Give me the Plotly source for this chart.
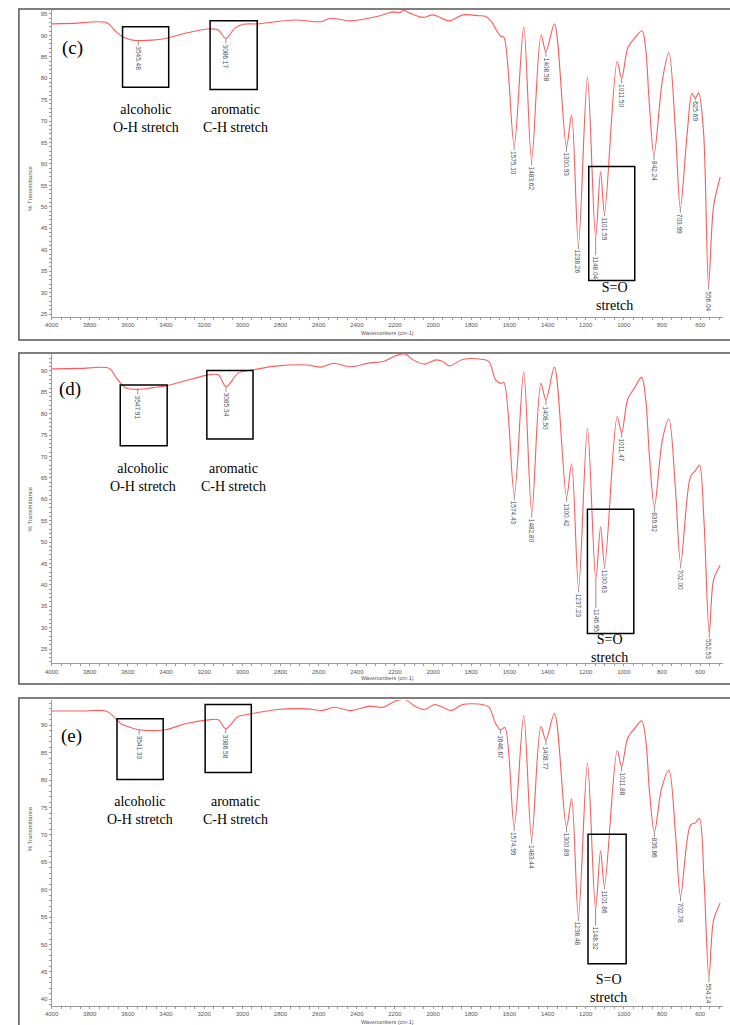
import plotly.graph_objects as go

W, H = 730, 1025

# ---------------- Spectrum (c) ----------------
wn_c = [4000, 3887, 3714, 3662, 3628, 3576, 3472, 3403, 3299, 3180, 3128, 3039, 2996,
        2918, 2728, 2589, 2537, 2434, 2295, 2209, 2174, 2157, 2122, 2053, 2001, 1914,
        1845, 1760, 1724, 1690, 1672, 1645, 1629, 1525, 1434, 1364, 1274, 1191, 1122,
        1035, 980, 945, 905, 885, 868, 798, 764, 729, 668, 643, 608, 582, 530, 495]
t_c = [92.7, 92.8, 93.0, 90.9, 89.7, 88.9, 88.9, 89.3, 90.5, 91.5, 91.3, 91.7, 92.6,
       92.7, 93.6, 93.2, 94.0, 93.4, 94.4, 95.5, 95.3, 95.9, 95.2, 94.2, 94.8, 93.4,
       94.8, 94.6, 94.4, 93.0, 91.5, 89.8, 89.6, 92.0, 90.1, 92.7, 71.4, 80.2, 58.2,
       83.9, 87.0, 89.3, 91.1, 86.6, 75.0, 79.6, 86.0, 67.2, 67.2, 76.5, 76.6, 67.2, 50.0, 57.0]
peak_wn_c = [3545.48, 3086.17, 1575.10, 1483.62, 1408.58, 1300.93, 1238.26, 1148.04,
             1101.59, 1011.50, 842.24, 703.99, 625.69, 556.04]
peak_t_c = [88.8, 89.3, 64.4, 60.9, 86.2, 64.0, 41.1, 42.9,
            48.5, 80.0, 62.1, 49.7, 75.3, 31.8]
lead_c = [5, 5, 5, 5, 5, 5, 4, 18, 3, 5, 5, 5, 2, 5]

# ---------------- Spectrum (d) ----------------
wn_d = [4000, 3850, 3697, 3662, 3637, 3611, 3470, 3403, 3299, 3178, 3126, 3022, 2953,
        2815, 2659, 2589, 2520, 2434, 2330, 2261, 2200, 2148, 2105, 2044, 1984, 1949,
        1914, 1845, 1741, 1707, 1672, 1646, 1629, 1525, 1435, 1364, 1274, 1191, 1122,
        1035, 980, 945, 907, 885, 866, 798, 764, 729, 651, 625, 604, 580, 530, 495]
t_d = [90.5, 90.6, 90.6, 88.5, 87.1, 86.0, 86.1, 86.5, 87.7, 89.1, 89.1, 89.5, 90.2,
       91.2, 91.4, 90.9, 91.8, 91.0, 91.9, 92.2, 93.5, 94.0, 92.6, 91.6, 92.6, 92.2,
       91.2, 92.7, 92.7, 92.2, 87.9, 87.1, 87.3, 89.8, 87.1, 90.9, 68.3, 76.6, 53.6,
       79.3, 83.4, 86.0, 88.5, 83.2, 70.0, 73.9, 78.7, 62.0, 65.3, 66.7, 68.0, 55.0, 41.1, 44.6]
peak_wn_d = [3547.91, 3085.34, 1574.43, 1482.80, 1408.50, 1300.42, 1237.23, 1146.95,
             1100.63, 1011.47, 839.92, 702.00, 552.53]
peak_t_d = [85.7, 86.3, 61.0, 56.9, 83.2, 60.6, 39.2, 41.3,
            44.4, 75.6, 58.3, 45.0, 28.7]
lead_d = [5, 5, 5, 5, 5, 5, 4, 29, 3, 5, 5, 5, 5]

# ---------------- Spectrum (e) ----------------
wn_e = [4000, 3850, 3714, 3671, 3637, 3593, 3403, 3299, 3178, 3126, 3022, 2953,
        2815, 2659, 2581, 2520, 2434, 2330, 2261, 2200, 2148, 2096, 2044, 1992, 1949,
        1906, 1845, 1742, 1707, 1672, 1624, 1525, 1435, 1364, 1274, 1191, 1122,
        1035, 980, 945, 907, 885, 866, 803, 764, 729, 651, 625, 604, 580, 530, 495]
t_e = [92.6, 92.6, 92.6, 91.5, 90.3, 89.7, 89.2, 90.3, 91.0, 91.0, 91.6, 92.1,
       92.9, 93.0, 92.7, 93.3, 92.7, 93.5, 93.3, 94.4, 94.7, 93.5, 92.9, 93.8, 93.3,
       92.7, 93.8, 93.8, 93.3, 90.3, 89.6, 91.8, 89.8, 92.2, 76.6, 83.1, 67.1,
       85.4, 87.7, 89.4, 90.8, 87.3, 78.0, 78.4, 81.8, 70.0, 71.8, 72.2, 73.0, 62.0, 54.4, 57.6]
peak_wn_e = [3541.33, 3086.58, 1646.67, 1574.99, 1483.44, 1408.77, 1300.89, 1238.48,
             1148.32, 1101.86, 1011.88, 839.86, 702.78, 554.14]
peak_t_e = [89.2, 89.4, 89.2, 71.6, 69.3, 87.3, 71.4, 55.0,
            56.5, 60.6, 82.5, 70.5, 58.8, 44.0]
lead_e = [5, 5, 4, 5, 5, 5, 5, 4, 17, 3, 5, 5, 5, 5]

panel_tags = ["(c)", "(d)", "(e)"]
y_ticks = [list(range(25, 96, 5)), list(range(25, 91, 5)), list(range(40, 91, 5))]
x_ticks = list(range(4000, 599, -200))


def px_x(p):
    return p / W


def px_y(p):
    return 1 - p / H


# plot areas in pixels: (top, bottom) and value ranges
panels = [
    dict(top=10, bottom=317, yr=[24.3, 95.93], frame=(9, 340),
         oh_box=(3628, 3386, 92.0, 77.9), ch_box=(3169, 2922, 93.4, 77.4),
         so_box=(1184, 943, 59.4, 32.8),
         oh_txt=(3507, 70.5), ch_txt=(3034, 70.5), so_txt=(1051, 29.0), tag=(3891, 87.1),
         xlab=333),
    dict(top=354, bottom=663.3, yr=[21.66, 93.97], frame=(353, 684),
         oh_box=(3640, 3394, 86.7, 72.5), ch_box=(3186, 2944, 90.1, 74.1),
         so_box=(1191, 948, 57.7, 28.6),
         oh_txt=(3519, 65.2), ch_txt=(3045, 65.2), so_txt=(1077, 25.2), tag=(3901, 85.8),
         xlab=678),
    dict(top=700, bottom=1006, yr=[38.78, 94.62], frame=(698, 1040),
         oh_box=(3657, 3415, 91.2, 80.1), ch_box=(3195, 2953, 93.8, 81.4),
         so_box=(1188, 988, 70.1, 46.5),
         oh_txt=(3538, 74.5), ch_txt=(3034, 74.5), so_txt=(1082, 42.0), tag=(3896, 88.0),
         xlab=1022),
]

curves = [(wn_c, t_c, peak_wn_c, peak_t_c, lead_c),
          (wn_d, t_d, peak_wn_d, peak_t_d, lead_d),
          (wn_e, t_e, peak_wn_e, peak_t_e, lead_e)]

fig = go.Figure()
layout = dict(width=W, height=H, margin=dict(l=0, r=0, t=0, b=0),
              paper_bgcolor="white", plot_bgcolor="white", showlegend=False)
annotations = []
shapes = []

serif = "Liberation Serif"
sans = "Arial"

for i, (p, (wn, tt, pwn, pt, lead)) in enumerate(zip(panels, curves)):
    n = "" if i == 0 else str(i + 1)
    xr, yr = "x" + n, "y" + n
    pts = sorted(zip(list(wn) + list(pwn), list(tt) + list(pt)), key=lambda a: -a[0])
    fig.add_trace(go.Scatter(
        x=[a[0] for a in pts], y=[a[1] for a in pts], mode="lines",
        line=dict(color="rgb(255,90,90)", width=1.1, shape="spline", smoothing=0.9),
        xaxis=xr, yaxis=yr, hoverinfo="skip"))

    axis_common = dict(showgrid=False, zeroline=False, showline=True,
                       linecolor="#9a9a9a", linewidth=1, ticks="outside",
                       ticklen=2, tickcolor="#9a9a9a",
                       tickfont=dict(size=6, color="#555", family=sans))
    layout["xaxis" + n] = dict(axis_common, domain=[px_x(45), px_x(723)],
                               range=[4000, 480], tickvals=x_ticks,
                               minor=dict(ticks="outside", dtick=50, ticklen=2,
                                          tickcolor="#9a9a9a"),
                               anchor=yr)
    layout["yaxis" + n] = dict(axis_common, domain=[px_y(p["bottom"]), px_y(p["top"])],
                               range=p["yr"], tickvals=y_ticks[i],
                               minor=dict(ticks="outside", dtick=1, ticklen=2,
                                          tickcolor="#9a9a9a"),
                               anchor=xr)

    # outer frame of the panel
    shapes.append(dict(type="rect", xref="paper", yref="paper",
                       x0=px_x(12), x1=px_x(745), y0=px_y(p["frame"][1]), y1=px_y(p["frame"][0]),
                       line=dict(color="#555", width=1.5)))
    # band boxes
    for key in ("oh_box", "ch_box", "so_box"):
        x0, x1, y1, y0 = p[key]
        shapes.append(dict(type="rect", xref=xr, yref=yr, x0=x0, x1=x1, y0=y0, y1=y1,
                           line=dict(color="black", width=1.5)))

    # band captions
    for key, txt in (("oh_txt", "alcoholic<br>O-H stretch"),
                     ("ch_txt", "aromatic<br>C-H stretch"),
                     ("so_txt", "S=O<br>stretch")):
        annotations.append(dict(x=p[key][0], y=p[key][1], xref=xr, yref=yr, text=txt,
                                showarrow=False, font=dict(size=14, color="black", family=serif)))
    annotations.append(dict(x=p["tag"][0], y=p["tag"][1], xref=xr, yref=yr,
                            text=panel_tags[i], showarrow=False,
                            font=dict(size=19, color="black", family=serif)))

    # peak position labels: short leader line then rotated value text
    for w_, t_, l_ in zip(pwn, pt, lead):
        shapes.append(dict(type="line", xref=xr, yref=yr, x0=w_, x1=w_,
                           ysizemode="pixel", yanchor=t_, y0=0, y1=-l_,
                           line=dict(color="#777", width=0.8)))
        annotations.append(dict(x=w_, y=t_, xref=xr, yref=yr, text=f"{w_:.2f}",
                                textangle=90, showarrow=False, xanchor="center",
                                yanchor="top", yshift=-l_, borderpad=0,
                                font=dict(size=6.5, color="#46515e", family=sans)))

    # axis titles
    annotations.append(dict(x=px_x(18), y=px_y((p["top"] + p["bottom"]) / 2), xref="paper",
                            yref="paper", text="% Transmittance", textangle=-90,
                            showarrow=False, font=dict(size=6, color="#555", family=sans)))
    annotations.append(dict(x=px_x(384), y=px_y(p["xlab"]), xref="paper", yref="paper",
                            text="Wavenumbers (cm-1)", showarrow=False, yanchor="middle",
                            font=dict(size=5.5, color="#555", family=sans)))

layout["annotations"] = annotations
layout["shapes"] = shapes
fig.update_layout(**layout)
fig.write_html("out.html")
